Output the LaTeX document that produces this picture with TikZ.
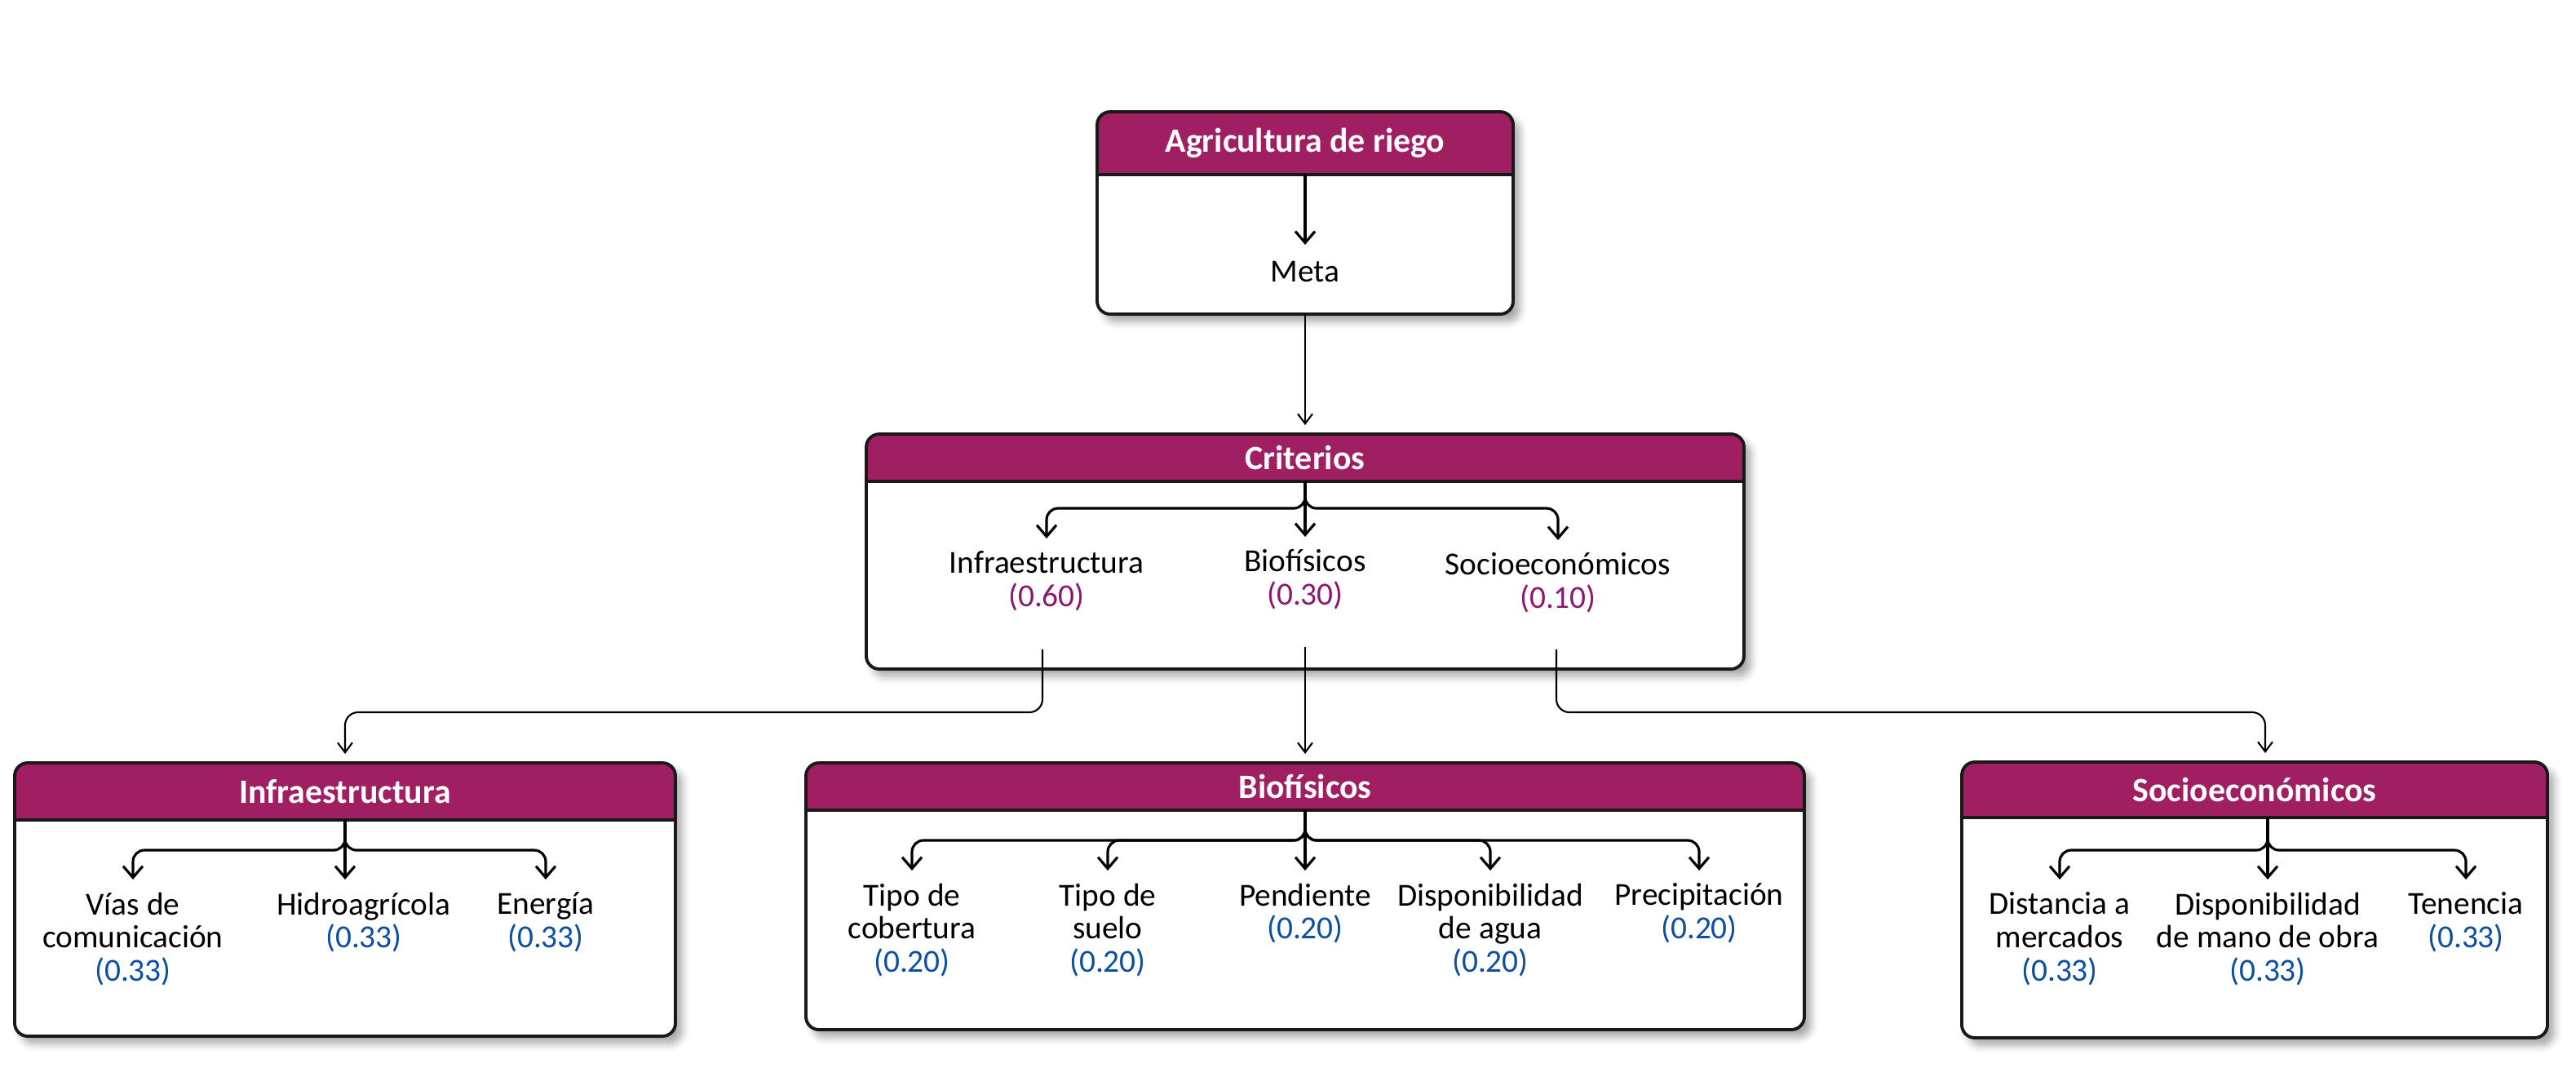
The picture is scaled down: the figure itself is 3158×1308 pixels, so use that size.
\documentclass[tikz,border=0pt]{standalone}
\usepackage{fontspec}
\setmainfont{Carlito}
\usetikzlibrary{arrows.meta,shadows.blur}

\definecolor{headfill}{HTML}{A01E62}
\definecolor{critnum}{HTML}{8C1770}
\definecolor{subnum}{HTML}{0B4EA2}

\tikzset{
  panelline/.style={line width=1.1pt, draw=black!90},
  headtext/.style={text=white, font=\fontsize{11.9}{13}\selectfont\bfseries, inner sep=0pt},
  lbl/.style={font=\fontsize{11.2}{11.6}\selectfont, align=center, anchor=north, inner sep=1.5mm},
  branch/.style={-{Straight Barb[length=1.4mm,width=2.4mm]}, line width=0.9pt, rounded corners=1.4mm},
  link/.style={-{Straight Barb[length=1.2mm,width=1.8mm]}, line width=0.6pt, rounded corners=1.6mm},
}

% name, x1, y1, x2, y header, y2, title
\newcommand{\panel}[7]{%
  \fill[white, rounded corners=1.6mm,
    blur shadow={shadow xshift=0.8mm, shadow yshift=-0.9mm, shadow blur radius=0.9mm, shadow opacity=35}]
    (#2,#3) rectangle (#4,#6);
  \begin{scope}
    \clip (#2,#3) rectangle (#4,#5);
    \fill[headfill, rounded corners=1.6mm] (#2,#3) rectangle (#4,#6);
  \end{scope}
  \draw[panelline] (#2,#5) -- (#4,#5);
  \draw[panelline, rounded corners=1.6mm] (#2,#3) rectangle (#4,#6);
  \node[headtext] (#1) at ({(#2+#4)/2},{(#3+#5)/2}) {#7};
  \coordinate (#1-j) at ({(#2+#4)/2},#5);
  \coordinate (#1-in) at ({(#2+#4)/2},#3-11);
  \coordinate (#1-out) at ({(#2+#4)/2},#6);
}

\begin{document}
\begin{tikzpicture}[x=0.1mm,y=-0.1mm]
\useasboundingbox (0,0) rectangle (3158,1308);

%meta
\panel{Agri}{1345}{137}{1855}{214}{385}{Agricultura de riego}
\node[lbl, inner sep=2mm] (meta) at (1600,300) {Meta};
\draw[branch] (Agri-j) -- (meta.north);

%criterios
\panel{Crit}{1062}{532}{2138}{590}{820}{Criterios}
\node[lbl] (c-infra) at (1283,660) {Infraestructura\\\textcolor{critnum}{(0.60)}};
\node[lbl] (c-bio) at (1600,658) {Biofísicos\\\textcolor{critnum}{(0.30)}};
\node[lbl] (c-socio) at (1910,662) {Socioeconómicos\\\textcolor{critnum}{(0.10)}};
\foreach \n in {c-infra,c-socio}
  \draw[branch] (Crit-j) -- ++(0,33) -| (\n.north);
\draw[branch] (Crit-j) -- (c-bio.north);

\draw[link] (Agri-out) -- (Crit-in);

%subcriterios
\panel{Infra}{18}{935}{828}{1005}{1270}{Infraestructura}
\node[lbl] (i-vias) at (163,1078) {Vías de\\comunicación\\\textcolor{subnum}{(0.33)}};
\node[lbl] (i-hidro) at (446,1078) {Hidroagrícola\\\textcolor{subnum}{(0.33)}};
\node[lbl] (i-energ) at (669,1078) {Energía\\\textcolor{subnum}{(0.33)}};
\foreach \n in {i-vias,i-energ}
  \draw[branch] (Infra-j) -- ++(0,37) -| (\n.north);
\draw[branch] (Infra-j) -- (Infra-j |- i-hidro.north);

\panel{Bio}{988}{935}{2212}{993}{1262}{Biofísicos}
\node[lbl] (b-cob) at (1118,1067) {Tipo de\\cobertura\\\textcolor{subnum}{(0.20)}};
\node[lbl] (b-suelo) at (1358,1067) {Tipo de\\suelo\\\textcolor{subnum}{(0.20)}};
\node[lbl] (b-pend) at (1600,1067) {Pendiente\\\textcolor{subnum}{(0.20)}};
\node[lbl] (b-agua) at (1827,1067) {Disponibilidad\\de agua\\\textcolor{subnum}{(0.20)}};
\node[lbl] (b-prec) at (2083,1067) {Precipitación\\\textcolor{subnum}{(0.20)}};
\foreach \n in {b-cob,b-suelo,b-agua,b-prec}
  \draw[branch] (Bio-j) -- ++(0,37) -| (\n.north);
\draw[branch] (Bio-j) -- (b-pend.north);

\panel{Socio}{2405}{934}{3123}{1002}{1272}{Socioeconómicos}
\coordinate (Socio-j) at (2780,1002);
\coordinate (Socio-in) at (2777,923);
\node[lbl] (s-dist) at (2525,1078) {Distancia a\\mercados\\\textcolor{subnum}{(0.33)}};
\node[lbl] (s-mano) at (2780,1078) {Disponibilidad\\de mano de obra\\\textcolor{subnum}{(0.33)}};
\node[lbl] (s-ten) at (3023,1078) {Tenencia\\\textcolor{subnum}{(0.33)}};
\foreach \n in {s-dist,s-ten}
  \draw[branch] (Socio-j) -- ++(0,40) -| (\n.north);
\draw[branch] (Socio-j) -- (s-mano.north);

%enlaces
\coordinate (Crit-l) at (1278,796);
\coordinate (Crit-m) at (1600,793);
\coordinate (Crit-r) at (1908,796);
\draw[link] (Crit-l) -- ++(0,77) -| (Infra-in);
\draw[link] (Crit-m) -- (Bio-in);
\draw[link] (Crit-r) -- ++(0,77) -| (Socio-in);
\end{tikzpicture}
\end{document}
